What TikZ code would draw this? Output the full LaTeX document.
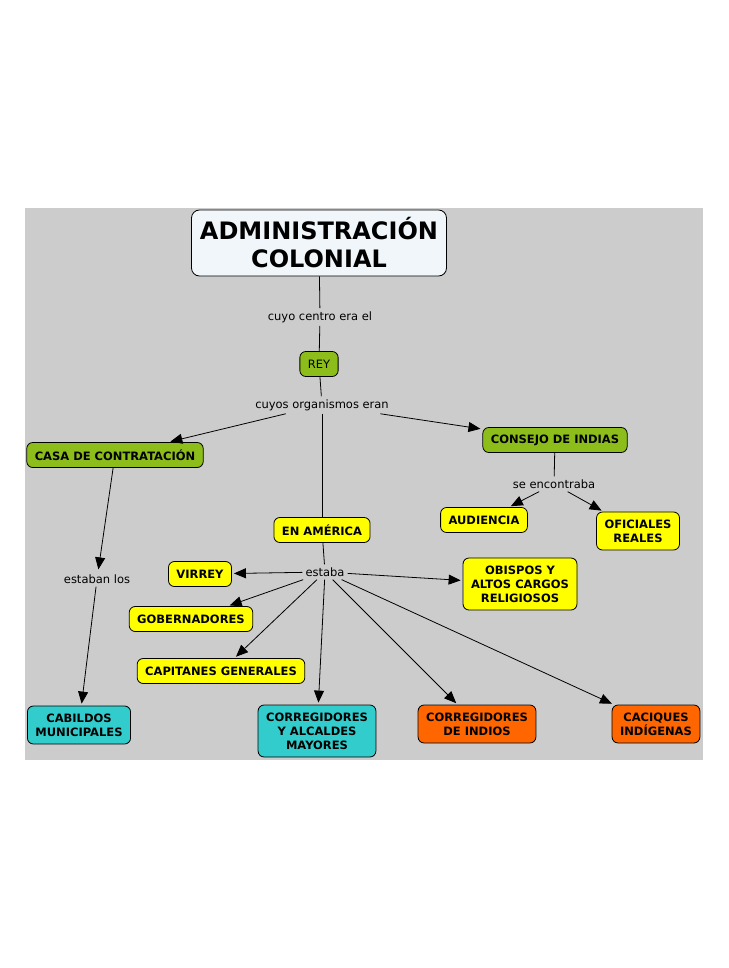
\documentclass[tikz,border=0pt]{standalone}
\usepackage{fontspec}
\setmainfont{DejaVu Sans}
\usetikzlibrary{arrows.meta}
\definecolor{MapBgClr}{RGB}{204,204,204}
\definecolor{RootClr}{RGB}{240,246,249}
\definecolor{GreenClr}{RGB}{140,189,26}
\definecolor{YellowClr}{RGB}{255,255,0}
\definecolor{TealClr}{RGB}{51,204,204}
\definecolor{OrangeClr}{RGB}{255,102,0}

\begin{document}
\begin{tikzpicture}[x=1pt,y=-1pt,
  concept/.style={draw=black,line width=0.8pt,rounded corners=6pt,align=center,
    font=\fontsize{11.5}{14}\selectfont\bfseries,inner xsep=8pt,inner ysep=2pt,minimum height=25pt},
  twolines/.style={minimum height=38pt},
  threelines/.style={minimum height=52pt},
  linking/.style={font=\fontsize{11.5}{14}\selectfont,inner sep=3pt},
  link/.style={line width=0.8pt},
  arrowlink/.style={link,shorten >=2pt,-{Triangle[length=12pt,width=10pt]}}]

\useasboundingbox[fill=white] (0,0) rectangle (728,968);
\fill[MapBgClr] (25,208) rectangle (703,760);

\node[concept,fill=RootClr,rounded corners=8pt,font=\fontsize{24}{28}\selectfont\bfseries,minimum width=255pt,minimum height=66pt] (admin) at (319,243) {ADMINISTRACIÓN\\COLONIAL};
\node[linking] (centro) at (320,317) {cuyo centro era el};
\node[concept,fill=GreenClr,font=\fontsize{11.5}{14}\selectfont] (rey) at (319,364) {REY};
\node[linking] (organismos) at (322,405) {cuyos organismos eran};

\node[concept,fill=GreenClr] (casa) at (115,455) {CASA DE CONTRATACIÓN};
\node[concept,fill=GreenClr] (consejo) at (555,440) {CONSEJO DE INDIAS};
\node[linking] (encontraba) at (554,484) {se encontraba};
\node[concept,fill=YellowClr] (audiencia) at (484,520) {AUDIENCIA};
\node[concept,fill=YellowClr,twolines] (oficiales) at (638,531) {OFICIALES\\REALES};

\node[concept,fill=YellowClr] (america) at (322,530) {EN AMÉRICA};
\node[linking] (estaba) at (325,572) {estaba};
\node[concept,fill=YellowClr] (virrey) at (200,574) {VIRREY};
\node[concept,fill=YellowClr,threelines] (obispos) at (520,584) {OBISPOS Y\\ALTOS CARGOS\\RELIGIOSOS};
\node[concept,fill=YellowClr] (gobernadores) at (191,619) {GOBERNADORES};
\node[concept,fill=YellowClr] (capitanes) at (221,671) {CAPITANES GENERALES};

\node[linking] (estabanlos) at (97,579) {estaban los};
\node[concept,fill=TealClr,twolines] (cabildos) at (79,725) {CABILDOS\\MUNICIPALES};
\node[concept,fill=TealClr,threelines] (alcaldes) at (317,731) {CORREGIDORES\\Y ALCALDES\\MAYORES};
\node[concept,fill=OrangeClr,twolines] (corregidores) at (477,724) {CORREGIDORES\\DE INDIOS};
\node[concept,fill=OrangeClr,twolines] (caciques) at (656,724) {CACIQUES\\INDÍGENAS};

\draw[link] (admin) -- (centro);
\draw[link] (centro) -- (rey);
\draw[link] (rey) -- (organismos);
\draw[arrowlink] (organismos) -- (casa);
\draw[arrowlink] (organismos) -- (consejo);
\draw[link] (organismos) -- (america);

\draw[link] (consejo) -- (encontraba);
\draw[arrowlink] (encontraba) -- (audiencia);
\draw[arrowlink] (encontraba) -- (oficiales);

\draw[link] (america) -- (estaba);
\foreach \target in {virrey,gobernadores,capitanes,alcaldes,corregidores,caciques,obispos}
  \draw[arrowlink] (estaba) -- (\target);

\draw[arrowlink] (casa) -- (estabanlos);
\draw[arrowlink] (estabanlos) -- (cabildos);

\end{tikzpicture}
\end{document}
